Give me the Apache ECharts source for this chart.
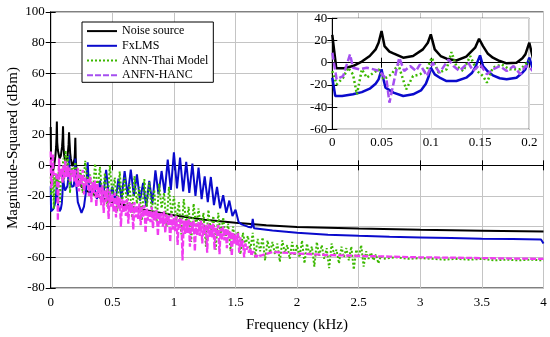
<!DOCTYPE html>
<html><head><meta charset="utf-8">
<script src="https://cdn.jsdelivr.net/npm/echarts/dist/echarts.min.js"></script>
<style>html,body{margin:0;padding:0;background:#fff}#c{width:550px;height:337px}</style>
</head><body><div id="c"></div>
<script>
// ---- data (frequency in kHz, magnitude in dBm) ----
const seriesNames = ['Noise source', 'FxLMS', 'ANN-Thai Model', 'ANFN-HANC'];
const xTicksMain = [0, 0.5, 1, 1.5, 2, 2.5, 3, 3.5, 4];
const yTicksMain = [-80, -60, -40, -20, 0, 20, 40, 60, 80, 100];
const xTicksInset = [0, 0.05, 0.1, 0.15, 0.2];
const yTicksInset = [-60, -40, -20, 0, 20, 40];

const noiseF = [0,0.004,0.012,0.021,0.03,0.038,0.044,0.047,0.05,0.053,0.058,0.062,0.072,0.082,0.092,0.097,0.1,0.104,0.11,0.116,0.126,0.136,0.145,0.149,0.153,0.158,0.163,0.17,0.177,0.187,0.193,0.196,0.2,0.204,0.215,0.25,0.3,0.4,0.5,0.6,0.75,1.0,1.25,1.5,1.75,2.0,2.5,3.0,3.5,4.0];
const noiseV = [25,-5,-5,-3,1,6,12,18,28.5,15,10,8.4,4.5,6,12,18,25.5,12,6,3.6,2,5.4,13.5,21.6,15,8,4.5,1.5,-0.6,0,4,7.5,18,3,-8,-14,-17,-21,-24,-26,-29,-32.5,-35.5,-37.5,-39,-40.2,-41.2,-42,-42.6,-43.2];

const fxF = [0,0.003,0.01,0.021,0.03,0.038,0.044,0.047,0.05,0.052,0.054,0.062,0.072,0.082,0.09,0.095,0.098,0.1,0.104,0.11,0.116,0.126,0.136,0.142,0.145,0.15,0.153,0.158,0.163,0.17,0.177,0.187,0.193,0.196,0.2,
  0.205,0.22,0.25,0.27,0.285,0.3,0.31,0.325,0.35,0.375,0.4,0.425,0.45,0.475,0.5,0.525,0.55,0.575,0.6,0.625,0.65,0.675,0.7,0.725,0.75,0.775,0.8,0.825,0.85,0.875,0.9,0.925,0.95,0.975,1.0,1.025,1.05,1.075,1.1,1.125,1.15,1.175,1.2,1.225,1.25,1.275,1.3,1.325,1.35,1.375,1.4,1.425,1.45,1.475,1.5,1.525,1.55,1.6,1.63,1.64,1.65,1.7,1.8,2.0,2.25,2.5,2.75,3.0,3.25,3.5,3.75,3.98,4.0];
const fxV = [-13.6,-30,-30,-28.5,-26.5,-23.4,-19,-15,-6,-15,-22.5,-27,-30,-28.5,-25,-19,-12,-4.5,-10.5,-14,-16.5,-16.5,-13.5,-9,-4.5,6.6,-3,-8,-11.4,-14,-15,-13.5,-9,-6,4.5,
  -10,-24,-31,-27,-18,2,-12,-20,-12,-22,-10,-22,-3,-22,-14,-24,-8.7,-22,-3.7,-20,-2.8,-20,-5.9,-23,-11.5,-27,-10.2,-25,-3.3,-19,-3.7,-18,3.7,-16,8.5,-15,5,-17,2.2,-18,1.1,-20,-1.5,-22,-7.2,-24,-7.6,-26,-14,-28,-19.5,-31,-23,-33,-29,-37,-38.5,-40,-40.5,-35,-41,-41.5,-42.5,-44,-45.3,-46,-46.6,-47,-47.4,-47.8,-48.1,-48.4,-51];

const annLowF = [0,0.0044,0.011,0.016,0.021,0.025,0.03,0.035,0.042,0.047,0.052,0.06,0.067,0.075,0.082,0.089,0.096,0.101,0.108,0.116,0.121,0.126,0.133,0.14,0.147,0.153,0.157,0.163,0.172,0.18,0.191];
const annLowV = [-7.5,-19.5,-13.5,-4.5,-10.5,-28.5,-6,-13.5,-9,-6,-15,-10.5,-1.5,-24,-12,-10.5,-6,4.5,-9,-6,9.6,-3,-7.5,6,-7.5,-12,-18,-4.5,-1.5,-6,-6];
const annMidStart = 0.2, annMidStep = 0.02;
const annMidV = [
  2,-14,-3,-18,3,-12,-6,-20,1,-16,
  -1,-22,-5,-27,0,-19,-8,-30,-4,-24,
  -8,-28,-12,-34,-7,-25,-14,-36,-9,-27,
  -11,-30,-16,-37,-12,-28,-18,-40,-14,-33,
  -20,-36,-24,-45,-22,-38,-27,-50,-25,-40,
  -28,-42,-31,-53,-29,-44,-33,-55,-31,-46,
  -34,-48,-38,-56,-40,-50,-43,-58,-44,-52,
  -46,-55,-44,-60,-48,-56,-47,-62,-49,-57,
  -50,-58,-51,-63,-49,-57,-52,-61,-50,-59,
  -52,-60,-49,-64,-51,-58,-53,-66,-50,-59,
  -52,-61,-54,-67,-51,-58,-55,-64,-53,-60,
  -54,-62,-53,-68,-55,-60,-52,-66,-56,-61,
  -57,-62,-58,-64,-59,-61];
const annTailF = [2.8,2.9,3.0,3.1,3.2,3.3,3.4,3.5,3.6,3.7,3.8,3.9,4.0];
const annTailV = [-60,-61,-60.5,-61,-61.5,-61,-61.5,-61,-62,-61.5,-62,-61.5,-62];

const anfnLowF = [0,0.0044,0.011,0.018,0.021,0.028,0.035,0.042,0.048,0.055,0.058,0.063,0.068,0.073,0.079,0.085,0.089,0.096,0.102,0.109,0.118,0.123,0.129,0.138,0.143,0.15,0.157,0.163,0.17,0.177,0.184,0.191,0.196];
const anfnLowV = [9,-15,-12,7.5,-4.5,-6,-4.5,-6,-7.5,-15,-36,-15,4.5,-7.5,-3,-7.5,-1.5,-12,0,-9,3,-3,-7.5,0,-7.5,-1.5,-10.5,-6,-3,-7.5,-3,-10.5,-3];
const anfnMidStart = 0.2, anfnMidStep = 0.01;
const anfnMidV = [
  -4,-14,-2,-17,-6,-12,-3,-19,-8,-13,
  -9,-20,-7,-24,-11,-18,-10,-27,-12,-21,
  -14,-26,-13,-31,-16,-24,-15,-35,-17,-27,
  -19,-30,-18,-34,-20,-28,-21,-40,-22,-31,
  -23,-33,-22,-38,-24,-31,-25,-42,-24,-34,
  -26,-35,-25,-39,-27,-34,-26,-44,-28,-36,
  -29,-37,-27,-41,-30,-36,-29,-46,-31,-38,
  -31,-40,-30,-44,-32,-39,-33,-50,-32,-42,
  -34,-43,-33,-52,-35,-41,-34,-62,-36,-45,
  -36,-44,-35,-53,-37,-43,-36,-56,-38,-46,
  -37,-46,-36,-51,-38,-45,-39,-57,-38,-47,
  -39,-47,-38,-55,-40,-46,-39,-58,-41,-49,
  -40,-49,-41,-54,-42,-48,-43,-59,-44,-51,
  -45,-52,-44,-57,-47,-53,-49,-60,-51,-55,
  -53,-57,-54,-59,-56,-58,-57,-60,-58,-59,-59];
const anfnTailF = [1.8,2.0,2.25,2.5,2.75,3.0,3.25,3.5,3.75,4.0];
const anfnTailV = [-56.5,-57.5,-58.5,-59,-59.5,-60,-60.2,-60.5,-60.8,-61];

// ---- build point lists ----
function pairs(f, v) { return f.map((x, i) => [x, v[i]]); }
function grid(start, step, v) { return v.map((y, i) => [+(start + i * step).toFixed(4), y]); }
const noiseData = pairs(noiseF, noiseV);
const fxData = pairs(fxF, fxV);
const annData = pairs(annLowF, annLowV).concat(grid(annMidStart, annMidStep, annMidV), pairs(annTailF, annTailV));
const anfnData = pairs(anfnLowF, anfnLowV).concat(grid(anfnMidStart, anfnMidStep, anfnMidV), pairs(anfnTailF, anfnTailV));
const insetCut = d => d.filter(p => p[0] <= 0.215);

const FONT = 'Liberation Serif';
const C_BLACK = '#000000', C_BLUE = '#0a0acc', C_GREEN = '#3cb800', C_MAG = '#f03cf0', C_VIOLET = '#a54ff0';

function axisCommon(extra) {
  return Object.assign({
    type: 'value',
    axisLine: { show: true, lineStyle: { color: '#000', width: 1 } },
    axisTick: { show: true, inside: true, length: 5, lineStyle: { color: '#000' } },
    axisLabel: { color: '#000', fontFamily: FONT, fontSize: 13 },
    splitLine: { show: false }
  }, extra);
}

const chart = echarts.init(document.getElementById('c'), null, { renderer: 'canvas' });
const mainLine = (name, data, color, type, width, z) => ({
  name, type: 'line', data, xAxisIndex: 0, yAxisIndex: 0, symbol: 'none', showSymbol: false,
  clip: true, z, animation: false,
  lineStyle: { color, width, type }, itemStyle: { color }
});
const insetLine = (name, data, color, type, width, z) => ({
  name, type: 'line', data, xAxisIndex: 2, yAxisIndex: 2, symbol: 'none', showSymbol: false,
  clip: true, z, animation: false,
  lineStyle: { color, width, type }, itemStyle: { color }
});

chart.setOption({
  animation: false,
  backgroundColor: '#fff',
  grid: [
    { left: 50.7, top: 12, width: 492.8, height: 276, show: true, backgroundColor: '#fff', borderColor: '#000', borderWidth: 1, z: 0 },
    { left: 332.3, top: 18.3, width: 197, height: 111, show: true, backgroundColor: '#fff', borderColor: '#000', borderWidth: 1, z: 20 }
  ],
  xAxis: [
    axisCommon({ gridIndex: 0, min: xTicksMain[0], max: xTicksMain[xTicksMain.length - 1], interval: 0.5, position: 'bottom',
      axisLabel: { color: '#000', fontFamily: FONT, fontSize: 13, margin: 8 },
      splitLine: { show: true, lineStyle: { color: '#c4c4c4', width: 1 } } }),
    axisCommon({ gridIndex: 0, min: 0, max: 4, interval: 0.5, position: 'top', axisLabel: { show: false } }),
    axisCommon({ gridIndex: 1, min: xTicksInset[0], max: xTicksInset[xTicksInset.length - 1], interval: 0.05, position: 'bottom', z: 21,
      axisLabel: { color: '#000', fontFamily: FONT, fontSize: 13, margin: 7 },
      splitLine: { show: true, lineStyle: { color: '#dcdcdc', width: 1 } } }),
    axisCommon({ gridIndex: 1, min: 0, max: 0.2, interval: 0.05, position: 'top', z: 21, axisLabel: { show: false } })
  ],
  yAxis: [
    axisCommon({ gridIndex: 0, min: yTicksMain[0], max: yTicksMain[yTicksMain.length - 1], interval: 20, position: 'left',
      axisLabel: { color: '#000', fontFamily: FONT, fontSize: 13, margin: 6 },
      splitLine: { show: true, lineStyle: { color: '#c4c4c4', width: 1 } } }),
    axisCommon({ gridIndex: 0, min: -80, max: 100, interval: 20, position: 'right', axisLabel: { show: false } }),
    axisCommon({ gridIndex: 1, min: yTicksInset[0], max: yTicksInset[yTicksInset.length - 1], interval: 20, position: 'left', z: 21,
      axisLabel: { color: '#000', fontFamily: FONT, fontSize: 13, margin: 5 },
      splitLine: { show: true, lineStyle: { color: '#dcdcdc', width: 1 } } }),
    axisCommon({ gridIndex: 1, min: -60, max: 40, interval: 20, position: 'right', z: 21, axisLabel: { show: false } })
  ],
  legend: {
    left: 82, top: 22, orient: 'vertical', itemGap: 0.5, itemWidth: 30, itemHeight: 10,
    padding: [2, 5, 0, 4], borderColor: '#000', borderWidth: 1, backgroundColor: '#fff',
    itemStyle: { opacity: 0, borderWidth: 0 },
    textStyle: { fontFamily: FONT, fontSize: 12, color: '#000', lineHeight: 14.2 }, z: 10,
    data: [
      { name: seriesNames[0] },
      { name: seriesNames[1] },
      { name: seriesNames[2] },
      { name: seriesNames[3], lineStyle: { color: C_VIOLET } }
    ]
  },
  graphic: [
    { type: 'text', x: 297, y: 325, style: { text: 'Frequency (kHz)', font: '15px "Liberation Serif"', fill: '#000', align: 'center', verticalAlign: 'middle' } },
    { type: 'text', x: 13, y: 148, rotation: Math.PI / 2, style: { text: 'Magnitude-Squared (dBm)', font: '15px "Liberation Serif"', fill: '#000', align: 'center', verticalAlign: 'middle' } }
  ],
  series: [
    mainLine(seriesNames[0], noiseData, C_BLACK, 'solid', 2, 2),
    mainLine(seriesNames[1], fxData, C_BLUE, 'solid', 2, 3),
    mainLine(seriesNames[2], annData, C_GREEN, [2, 2], 2, 4),
    mainLine(seriesNames[3], anfnData, C_MAG, [6, 2], 2.3, 5),
    insetLine('i0', insetCut(noiseData), C_BLACK, 'solid', 2.5, 22),
    insetLine('i1', insetCut(fxData), C_BLUE, 'solid', 2.5, 23),
    insetLine('i2', insetCut(annData), C_GREEN, [2, 2.5], 2.5, 24),
    insetLine('i3', insetCut(anfnData), C_VIOLET, [7, 3], 2.5, 25)
  ]
});
</script></body></html>
